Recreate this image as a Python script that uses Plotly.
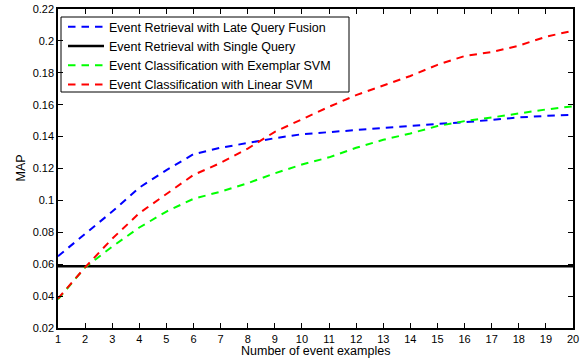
import plotly.graph_objects as go

n_examples = list(range(1, 21))
late_fusion = [0.065, 0.079, 0.093, 0.108, 0.119, 0.129, 0.133, 0.136, 0.139, 0.1415,
               0.1428, 0.1445, 0.1458, 0.147, 0.148, 0.149, 0.1505, 0.152, 0.153, 0.1537]
single_query = [0.0587] * 20
exemplar_svm = [0.038, 0.058, 0.071, 0.083, 0.093, 0.101, 0.1055, 0.1108, 0.117, 0.1225,
                0.127, 0.133, 0.138, 0.142, 0.1466, 0.1497, 0.152, 0.1545, 0.157, 0.159]
linear_svm = [0.0385, 0.058, 0.076, 0.092, 0.104, 0.116, 0.1235, 0.1325, 0.143, 0.151,
              0.1587, 0.166, 0.172, 0.178, 0.185, 0.1905, 0.193, 0.197, 0.2026, 0.2064]

names = ["Event Retrieval with Late Query Fusion",
         "Event Retrieval with Single Query",
         "Event Classification with Exemplar SVM",
         "Event Classification with Linear SVM"]

x_ticks = list(range(1, 21))
y_ticks = [0.02, 0.04, 0.06, 0.08, 0.1, 0.12, 0.14, 0.16, 0.18, 0.2, 0.22]
y_tick_text = ["0.02", "0.04", "0.06", "0.08", "0.1", "0.12", "0.14", "0.16", "0.18", "0.2", "0.22"]

DASH = "7.5px,6px"
fig = go.Figure()
fig.add_trace(go.Scatter(x=n_examples, y=late_fusion, mode="lines", name=names[0],
                         line=dict(color="#0000ff", width=2, dash=DASH)))
fig.add_trace(go.Scatter(x=n_examples, y=single_query, mode="lines", name=names[1],
                         line=dict(color="#000000", width=2.5)))
fig.add_trace(go.Scatter(x=n_examples, y=exemplar_svm, mode="lines", name=names[2],
                         line=dict(color="#00ff00", width=2, dash=DASH)))
fig.add_trace(go.Scatter(x=n_examples, y=linear_svm, mode="lines", name=names[3],
                         line=dict(color="#ff0000", width=2, dash=DASH)))

FAM = "Liberation Sans, Arial, Helvetica, sans-serif"
tick_font = dict(family=FAM, size=11, color="#000000")
label_font = dict(family=FAM, size=12.5, color="#000000")
axis_common = dict(showline=True, linecolor="#000000", linewidth=1.5, mirror="ticks",
                   ticks="inside", ticklen=5, tickcolor="#000000", tickwidth=1,
                   showgrid=False, zeroline=False, automargin=False, tickfont=tick_font)

ML, MR, MT, MB = 58, 12, 9, 32
PLOT_H = 360 - MT - MB
PLOT_W = 585 - ML - MR

def px_x(px):
    return (px - ML) / PLOT_W

def px_y(py):
    return (360 - MB - py) / PLOT_H

fig.update_layout(
    width=585, height=360,
    margin=dict(l=ML, r=MR, t=MT, b=MB),
    paper_bgcolor="white", plot_bgcolor="white",
    font=tick_font,
    xaxis=dict(range=[1, 20], tickvals=x_ticks, **axis_common),
    yaxis=dict(range=[0.02, 0.22], tickvals=y_ticks, ticktext=y_tick_text, **axis_common),
    legend=dict(x=px_x(63), y=px_y(12), xanchor="left", yanchor="top",
                bgcolor="rgba(0,0,0,0)", borderwidth=0,
                font=label_font, tracegroupgap=0, itemwidth=36),
    showlegend=True,
    shapes=[dict(type="rect", xref="paper", yref="paper",
                 x0=px_x(61), x1=px_x(349), y0=px_y(92), y1=px_y(17),
                 line=dict(color="#000000", width=1), fillcolor="white", layer="below")],
    annotations=[
        dict(text="Number of event examples", xref="paper", yref="paper",
             x=0.5, y=px_y(351), xanchor="center", yanchor="middle",
             showarrow=False, font=label_font),
        dict(text="MAP", xref="paper", yref="paper", textangle=-90,
             x=px_x(20), y=0.5, xanchor="center", yanchor="middle",
             showarrow=False, font=label_font),
    ],
)

fig.write_html("out.html", config={"displayModeBar": False},
               post_script="document.body.style.margin='0';document.body.style.padding='0';")
